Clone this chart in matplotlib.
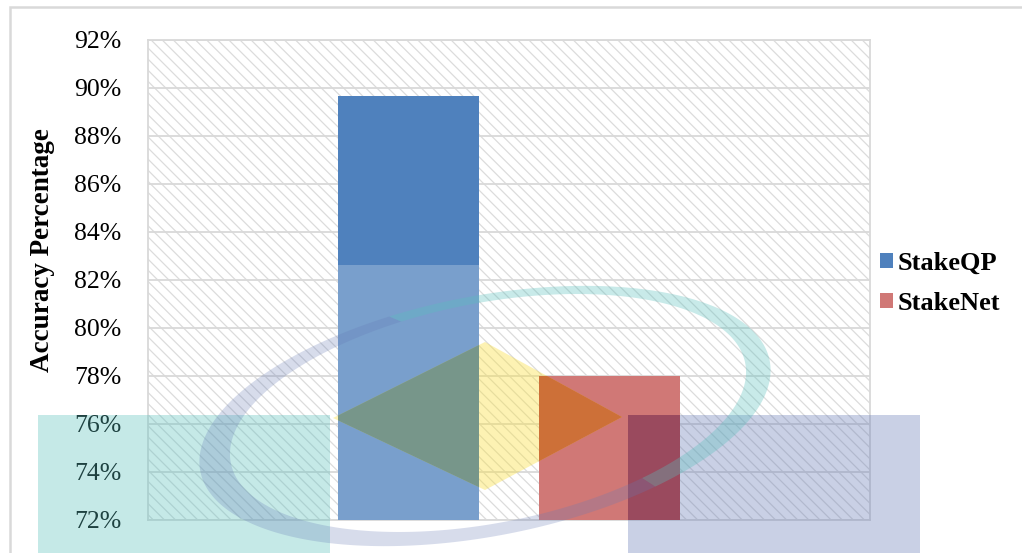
import numpy as np
import matplotlib
matplotlib.use('Agg')
import matplotlib.pyplot as plt
from matplotlib.patches import Rectangle, Polygon

plt.rcParams['font.family'] = ['Liberation Serif', 'DejaVu Serif']
plt.rcParams['hatch.color'] = '#dcdcdc'
plt.rcParams['hatch.linewidth'] = 0.9

# data
series = ['StakeQP', 'StakeNet']
accuracy = [89.67, 78.0]
colors = ['#4f81bd', '#d07876']
yticks = [72, 74, 76, 78, 80, 82, 84, 86, 88, 90, 92]

W, H = 1022, 553
fig = plt.figure(figsize=(W / 100, H / 100), dpi=100)
ax = fig.add_axes([148 / W, 1 - 520 / H, 722 / W, 480 / H])

# hatched plot area
ax.add_patch(Rectangle((0, 0), 1, 1, transform=ax.transAxes, facecolor='white',
                       edgecolor='#dcdcdc', hatch='\\\\\\', lw=0, zorder=0))

bw = 0.195
offs = [-0.139, 0.139]
bars = []
for i in range(len(series)):
    b = ax.bar(offs[i], accuracy[i] - 72, bottom=72, width=bw, color=colors[i],
               label=series[i], zorder=3)
    bars.append(b[0])

ax.set_xlim(-0.5, 0.5)
ax.set_ylim(72, 92)
ax.set_yticks(yticks)
ax.set_yticklabels(['%d%%' % t for t in yticks], fontsize=18.5)
ax.set_xticks([])
ax.tick_params(axis='y', length=0, pad=19)
ax.grid(axis='y', color='#d9d9d9', lw=1.3, zorder=1)
ax.set_axisbelow(False)
for s in ax.spines.values():
    s.set_color('#d9d9d9')
    s.set_linewidth(1.3)
    s.set_zorder(2)

fig.text(43 / W, 1 - 250 / H, 'Accuracy Percentage', rotation=90, ha='center',
         va='center', fontsize=19.5, fontweight='bold')

fig.legend(handles=bars, labels=series, loc='center left',
           bbox_to_anchor=(880 / W, 1 - 283 / H), frameon=False,
           prop={'size': 19, 'weight': 'bold'}, handlelength=0.5,
           handleheight=0.5, handletextpad=0.15, labelspacing=0.65,
           borderpad=0, borderaxespad=0)

# outer border
fig.add_artist(Rectangle((10 / W, -0.05), 1.1, (H - 7) / H + 0.05,
                         transform=fig.transFigure, fill=False,
                         edgecolor='#d9d9d9', lw=1.8))

# watermark logo overlay (pixel coordinates, y down)
ov = fig.add_axes([0, 0, 1, 1], zorder=5)
ov.set_xlim(0, W)
ov.set_ylim(H, 0)
ov.axis('off')
ov.patch.set_alpha(0)

teal = '#59c0bd'
lav = '#6579b5'

# lighter lower part of first bar
r = Rectangle((300, 265), 400, 300, facecolor='white', alpha=0.24, lw=0)
ov.add_patch(r)
r.set_clip_path(bars[0])

ov.add_patch(Rectangle((38, 415), 292, 140, facecolor=teal, alpha=0.35, lw=0))
ov.add_patch(Rectangle((628, 415), 292, 140, facecolor=lav, alpha=0.35, lw=0))
m = Rectangle((628, 415), 292, 140, facecolor='#9a4a5e', lw=0)
ov.add_patch(m)
m.set_clip_path(bars[1])


def ell(cx, cy, a, b, phi, t):
    p = np.radians(phi)
    x = cx + a * np.cos(t) * np.cos(p) - b * np.sin(t) * np.sin(p)
    y = cy + a * np.cos(t) * np.sin(p) + b * np.sin(t) * np.cos(p)
    return np.column_stack([x, y])


def ring(t1, t2, color, alpha):
    t = np.radians(np.linspace(t1, t2, 200))
    outer = ell(485, 416, 290, 120, -11, t)
    inner = ell(488, 413, 262, 110, -11, t)
    pts = np.vstack([outer, inner[::-1]])
    ov.add_patch(Polygon(pts, closed=True, facecolor=color, alpha=alpha, lw=0))


ring(-105, 58, teal, 0.33)
ring(58, 255, lav, 0.26)

diamond = [(333, 418), (485, 342), (622, 417), (485, 490)]
ov.add_patch(Polygon(diamond, closed=True, facecolor='#fae043', alpha=0.4, lw=0))
g = Polygon(diamond, closed=True, facecolor='#77968a', lw=0)
ov.add_patch(g)
g.set_clip_path(bars[0])
o = Polygon(diamond, closed=True, facecolor='#cd7038', lw=0)
ov.add_patch(o)
o.set_clip_path(bars[1])

fig.savefig('out.png', dpi=100)
